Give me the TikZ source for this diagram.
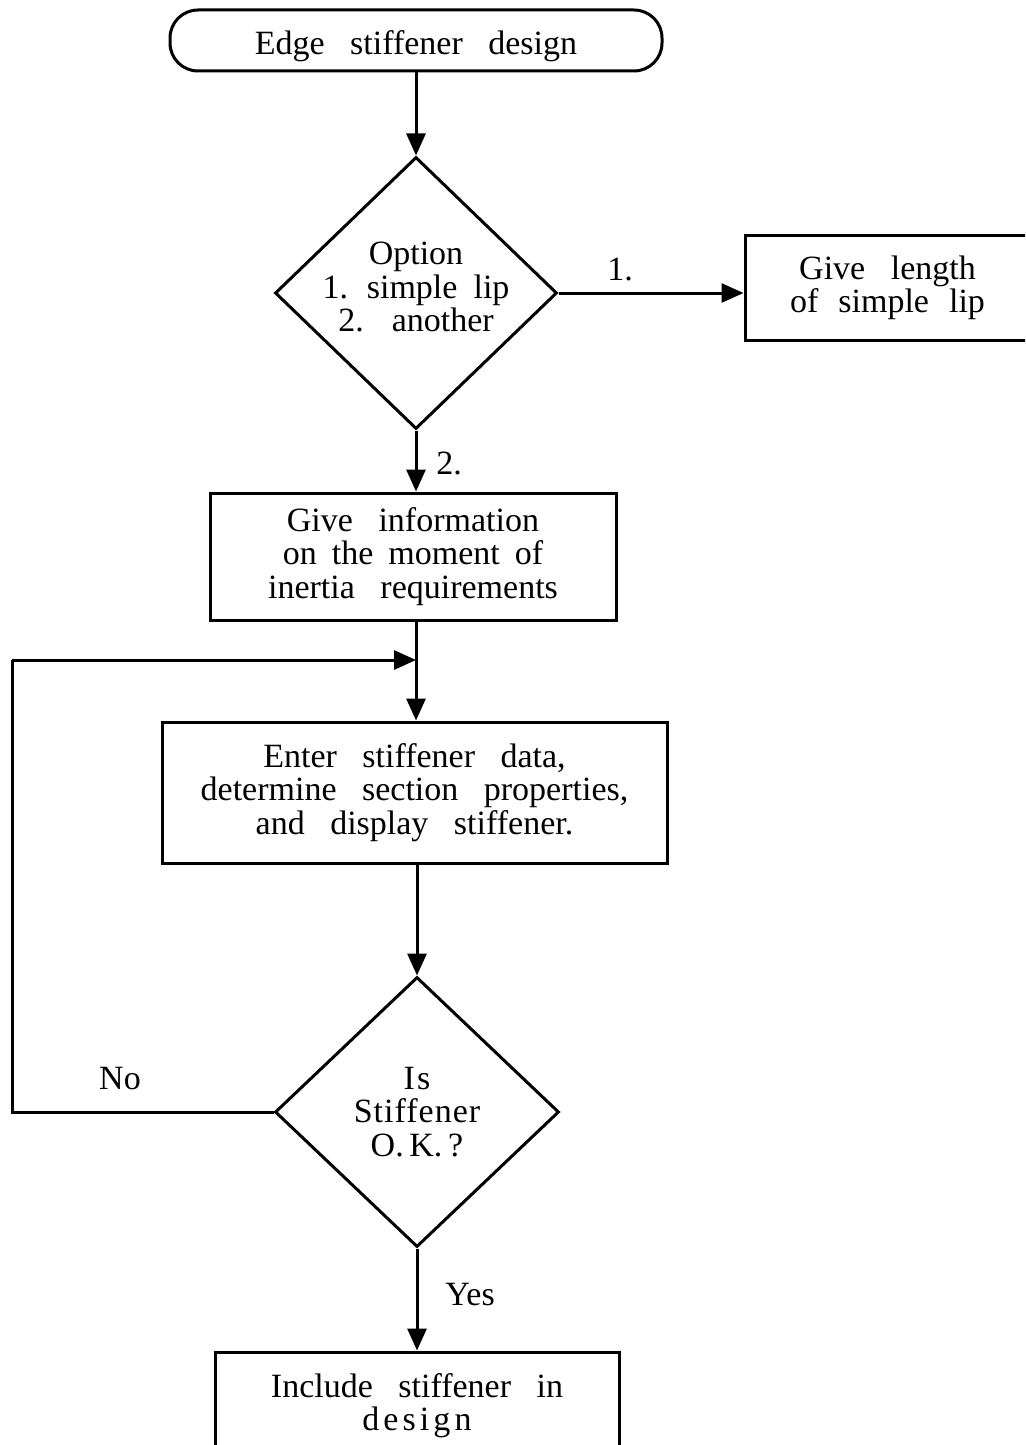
\documentclass[tikz,border=0pt]{standalone}
\usepackage{fontspec}
\setmainfont[WordSpace=3.0]{Liberation Serif}
\usetikzlibrary{shapes.geometric,arrows.meta}
\begin{document}
\begin{tikzpicture}[x=0.5pt,y=-0.5pt,
  every node/.style={font=\fontsize{17}{16.6}\selectfont, align=center, inner sep=0pt},
  ln/.style={line width=1.5pt, draw=black},
  arr/.style={ln, -{Triangle[length=11pt,width=9.5pt]}},
  termbox/.style={ln, rectangle, rounded corners=14pt, minimum width=246pt, minimum height=30.5pt},
  procbox/.style={ln, rectangle},
  decide/.style={ln, diamond, aspect=1},
  lbl/.style={font=\fontsize{17}{16.6}\selectfont}
]
\useasboundingbox (0,0) rectangle (1025,1445);
\clip (0,0) rectangle (1025,1445);
\fill[white] (0,0) rectangle (1025,1445);

\node[termbox] (start) at (416,40.5) {\raisebox{-7pt}[0pt][0pt]{Edge stiffener design}};
\node[decide, minimum width=141pt, minimum height=136pt] (d1) at (416,293)
  {\raisebox{-3.5pt}[0pt][0pt]{\begin{tabular}{@{}c@{}}Option\\{\spaceskip=8pt\relax 1. simple lip}\\2.\hspace{14pt}another\end{tabular}}};
\node[procbox, minimum width=142.5pt, minimum height=52.5pt] (lip) at (887.5,288)
  {Give length\\{\spaceskip=10pt\relax of simple lip}};
\node[procbox, minimum width=203pt, minimum height=63.5pt] (info) at (413,556.5)
  {Give information\\{\spaceskip=7.5pt\relax on the moment of}\\inertia requirements};
\node[procbox, minimum width=252.5pt, minimum height=70.5pt] (enter) at (414.5,792.5)
  {Enter stiffener data,\\determine section properties,\\and display stiffener.};
\node[decide, minimum width=142pt, minimum height=135pt] (d2) at (417,1112)
  {{\addfontfeatures{LetterSpace=6}Is}\\{\addfontfeatures{LetterSpace=3}Stiffener}\\{\spaceskip=2pt\relax O.\,K.\,?}};
\node[procbox, minimum width=202pt, minimum height=54pt] (incl) at (417,1406)
  {Include stiffener in\\{\addfontfeatures{LetterSpace=12}design}};

\coordinate (cl) at (12,1112);
\coordinate (ct) at (12,660);
\coordinate (j) at (416,660);

\draw[arr] (start.south) -- (d1.north);
\draw[arr] (d1.east) -- (lip.west |- d1.east);
\draw[arr] (d1.south) -- (info.north -| d1.south);
\draw[arr] (info.south -| j) -- (enter.north -| j);
\draw[arr] (enter.south -| d2.north) -- (d2.north);
\draw[arr] (d2.south) -- (incl.north);
\draw[ln] (d2.west) -- (cl) -- (ct);
\draw[arr] (ct) -- (j);

\node[lbl] (l1) at (620,270) {1.};
\node[lbl] (l2) at (449,463) {2.};
\node[lbl] (lno) at (120,1079) {No};
\node[lbl] (lyes) at (470,1295) {Yes};
\end{tikzpicture}
\end{document}
